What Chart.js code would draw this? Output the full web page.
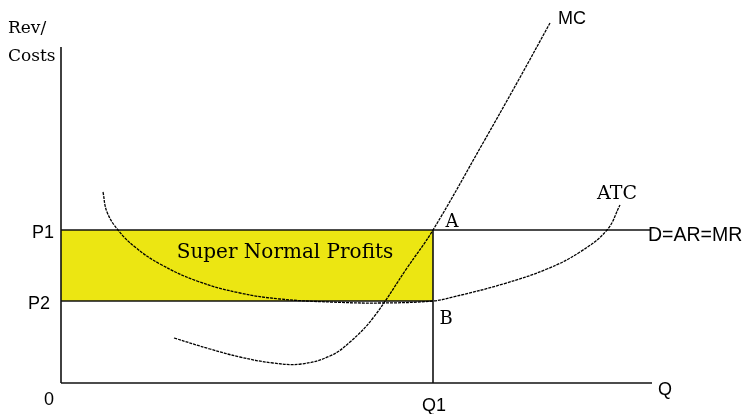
<!DOCTYPE html>
<html>
<head>
<meta charset="utf-8">
<script src="https://cdn.jsdelivr.net/npm/chart.js@4"></script>
<style>
  html, body { margin: 0; padding: 0; background: #fff; }
  #wrap { width: 745px; height: 414px; }
</style>
</head>
<body>
<div id="wrap"><canvas id="c" width="745" height="414"></canvas></div>
<script>
// ---- Data (quantity on x, revenue/costs on y) ----
const P1 = 153;
const P2 = 82;
const Q1 = 372;
const Q_END = 591;        // end of quantity axis
const PRICE_TOP = 336;    // top of price axis
const DEMAND_END = 589;   // D=AR=MR line end

const mcQ    = [113, 149, 179, 212, 240, 269, 289, 312, 346, 372, 422, 457, 489];
const mcCost = [ 45,  34,  26,  20,  19,  27,  41,  65, 115, 153, 240, 302, 360];

const atcQ    = [ 42,  46,  57,  74,  99, 136, 179, 219, 269, 319, 372, 392, 442, 486, 519, 546, 559];
const atcCost = [191, 171, 153, 136, 119, 102,  90,  84,  81,  80,  82,  86,  99, 114, 131, 153, 178];

// text labels anchored at data values
const labelText = ['Rev/', 'Costs', 'A', 'B', 'ATC', 'P1', 'P2', '0', 'Q1', 'Q', 'MC', 'D=AR=MR', 'Super Normal Profits'];
const labelX    = [ -53,    -53,    391, 385,  556,  -18,  -22,  -12,  373,  604, 511,   587,       224];
const labelY    = [ 354,    326,    161,  64,  189,  150,   79,  -17,  -23,   -7, 364,   147,       130];

// styles per label
const SERIF = '"DejaVu Serif"';
const SANS = '"Liberation Sans"';
const labelStyle = {
  'Rev/': { font: `17px ${SERIF}`, align: 'left' },
  'Costs': { font: `17px ${SERIF}`, align: 'left' },
  'A': { font: `18px ${SERIF}` },
  'B': { font: `18px ${SERIF}` },
  'ATC': { font: `19px ${SERIF}` },
  'P1': { font: `18px ${SANS}` },
  'P2': { font: `18px ${SANS}` },
  '0': { font: `18px ${SANS}` },
  'Q1': { font: `18px ${SANS}` },
  'Q': { font: `18px ${SANS}` },
  'MC': { font: `18px ${SANS}` },
  'D=AR=MR': { font: `19.5px ${SANS}`, align: 'left' },
  'Super Normal Profits': { font: `20px ${SERIF}` },
};

const zip = (xs, ys) => xs.map((x, i) => ({ x, y: ys[i] }));

const INK = '#111';
const YELLOW = '#ECE612';

const plain = (data, extra) => Object.assign({
  data,
  borderColor: INK,
  borderWidth: 1.6,
  pointRadius: 0,
  fill: false,
  tension: 0,
}, extra || {});

const curve = (data) => plain(data, {
  tension: 0.4,
  borderWidth: 1.3,
  borderDash: [3, 1],
  borderColor: '#000',
});

const labelPlugin = {
  id: 'econLabels',
  afterDatasetsDraw(chart) {
    const { ctx, scales } = chart;
    ctx.save();
    ctx.fillStyle = '#000';
    ctx.textBaseline = 'middle';
    labelText.forEach((t, i) => {
      const st = labelStyle[t];
      ctx.font = st.font;
      ctx.textAlign = st.align || 'center';
      ctx.fillText(t, scales.x.getPixelForValue(labelX[i]), scales.y.getPixelForValue(labelY[i]));
    });
    ctx.restore();
  },
};

new Chart(document.getElementById('c'), {
  type: 'line',
  data: {
    datasets: [
      curve(zip(mcQ, mcCost)),
      curve(zip(atcQ, atcCost)),
      plain([{ x: 0, y: P1 }, { x: DEMAND_END, y: P1 }]),
      plain([{ x: 0, y: P2 }, { x: Q1, y: P2 }]),
      plain([{ x: Q1, y: 0 }, { x: Q1, y: P1 }]),
      plain([{ x: 0, y: 0 }, { x: 0, y: PRICE_TOP }]),
      plain([{ x: 0, y: 0 }, { x: Q_END, y: 0 }]),
      // profit rectangle (drawn first)
      plain([{ x: 0, y: P1 }, { x: Q1, y: P1 }], {
        borderWidth: 0,
        backgroundColor: YELLOW,
        fill: { value: P2 },
      }),
    ],
  },
  options: {
    responsive: false,
    animation: false,
    layout: { padding: 0 },
    plugins: {
      legend: { display: false },
      tooltip: { enabled: false },
    },
    scales: {
      x: { type: 'linear', min: -61, max: 684, display: false },
      y: { type: 'linear', min: -31, max: 383, display: false },
    },
  },
  plugins: [labelPlugin],
});
</script>
</body>
</html>
